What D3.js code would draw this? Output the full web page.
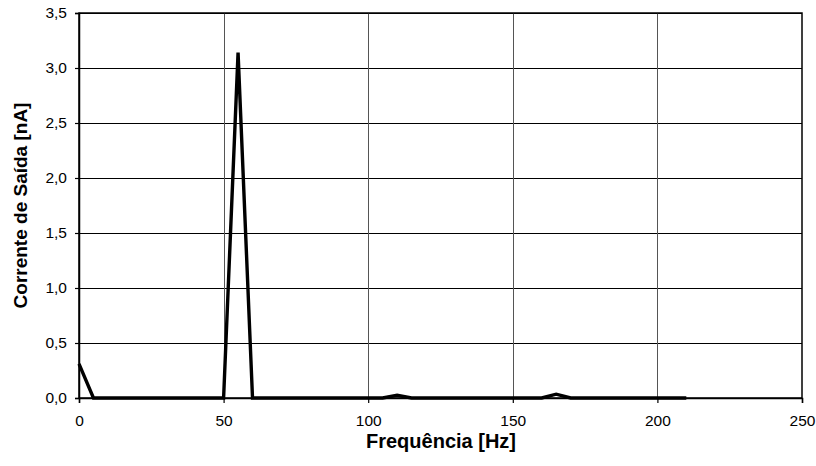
<!DOCTYPE html>
<html>
<head>
<meta charset="utf-8">
<script src="https://cdn.jsdelivr.net/npm/d3@7"></script>
<style>
  body { margin: 0; background: #fff; }
  svg { display: block; }
  text { font-family: "Liberation Sans", Arial, sans-serif; }
</style>
</head>
<body>
<svg id="chart" width="816" height="466"></svg>
<script>
// Frequency (Hz) and output current (nA)
const frequencies = [0,5,10,15,20,25,30,35,40,45,50,55,60,65,70,75,80,85,90,95,100,105,110,115,120,125,130,135,140,145,150,155,160,165,170,175,180,185,190,195,200,205,210];
const currents    = [0.31,0,0,0,0,0,0,0,0,0,0,3.14,0,0,0,0,0,0,0,0,0,0,0.025,0,0,0,0,0,0,0,0,0,0,0.035,0,0,0,0,0,0,0,0,0];
const xTicks = [0,50,100,150,200,250];
const yTicks = [0,0.5,1,1.5,2,2.5,3,3.5];
const xTitle = "Frequência [Hz]";
const yTitle = "Corrente de Saída [nA]";

const svg = d3.select("#chart");
const m = {left: 79, right: 802, top: 13, bottom: 398};

const x = d3.scaleLinear().domain([0, 250]).range([m.left, m.right]);
const y = d3.scaleLinear().domain([0, 3.5]).range([m.bottom, m.top]);
const fmt = d => d3.format(".1f")(d).replace(".", ",");

// gridlines
svg.append("g").selectAll("line").data(yTicks.filter(d => d > 0)).join("line")
  .attr("x1", m.left).attr("x2", m.right)
  .attr("y1", d => Math.round(y(d)) + 0.5).attr("y2", d => Math.round(y(d)) + 0.5)
  .attr("stroke", "#000").attr("stroke-width", 1);
svg.append("g").selectAll("line").data(xTicks.filter(d => d > 0 && d < 250)).join("line")
  .attr("y1", m.top).attr("y2", m.bottom)
  .attr("x1", d => Math.round(x(d)) + 0.5).attr("x2", d => Math.round(x(d)) + 0.5)
  .attr("stroke", "#555").attr("stroke-width", 1);

// border
svg.append("rect").attr("x", m.left).attr("y", m.top)
  .attr("width", m.right - m.left).attr("height", m.bottom - m.top)
  .attr("fill", "none").attr("stroke", "#000").attr("stroke-width", 1.5);

// axes
const xAxis = svg.append("g").attr("transform", `translate(0,${m.bottom})`)
  .call(d3.axisBottom(x).tickValues(xTicks).tickSize(5).tickPadding(12).tickFormat(d3.format("d")));
const yAxis = svg.append("g").attr("transform", `translate(${m.left},0)`)
  .call(d3.axisLeft(y).tickValues(yTicks).tickSize(4).tickPadding(8).tickFormat(fmt));
[xAxis, yAxis].forEach(a => {
  a.select(".domain").attr("stroke", "#000").attr("stroke-width", 1.5);
  a.selectAll(".tick line").attr("stroke", "#000").attr("stroke-width", 1.2);
  a.selectAll(".tick text").attr("fill", "#000").style("font-size", "15.5px")
   .style("font-family", "'Liberation Sans', Arial, sans-serif");
});

// data line
const line = d3.line().x((d, i) => x(frequencies[i])).y(d => y(d));
svg.append("path").datum(currents)
  .attr("d", line).attr("fill", "none")
  .attr("stroke", "#000").attr("stroke-width", 3.4).attr("stroke-linejoin", "miter");

// titles
svg.append("text").attr("x", 441).attr("y", 448)
  .attr("text-anchor", "middle").style("font-size", "20px").style("font-weight", "bold")
  .text(xTitle);
svg.append("text").attr("transform", `translate(27,${(m.top + m.bottom) / 2}) rotate(-90)`)
  .attr("text-anchor", "middle").style("font-size", "19px").style("font-weight", "bold")
  .text(yTitle);
</script>
</body>
</html>
